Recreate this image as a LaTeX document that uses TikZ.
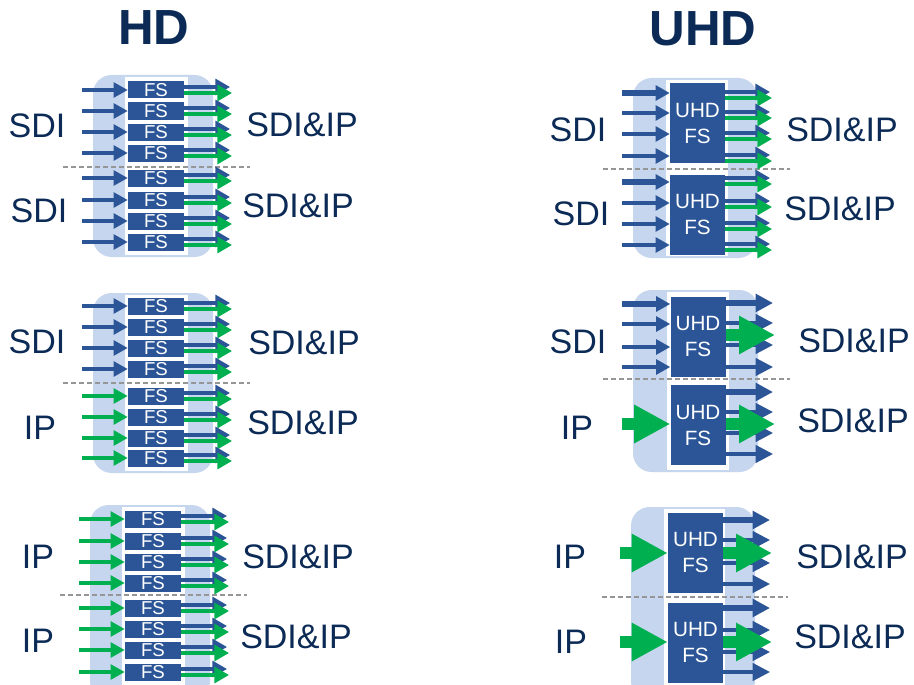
\documentclass[tikz,border=0pt]{standalone}
\usepackage{fontspec}
\setmainfont{Liberation Sans}
\usetikzlibrary{arrows.meta}
\definecolor{navy}{RGB}{11,42,85}
\definecolor{boxblue}{RGB}{43,85,151}
\definecolor{bglight}{RGB}{197,214,238}
\definecolor{grn}{RGB}{0,176,80}
\definecolor{sepgray}{RGB}{150,150,150}
\tikzset{
  bgpanel/.style={fill=bglight, rounded corners=14pt},
  sepline/.style={draw=sepgray, line width=1.5pt, dash pattern=on 3.75pt off 2.25pt},
  fsbox/.style={fill=boxblue, text=white, minimum width=42pt, minimum height=12.75pt, inner sep=0pt,
    font=\fontsize{14}{14}\selectfont, text height=10pt, text depth=0pt},
  uhdbox/.style={fill=boxblue, text=white, minimum width=41.25pt, minimum height=60pt, inner sep=0pt,
    align=center, font=\fontsize{15.5}{19.5}\selectfont},
  lab/.style={text=navy, inner sep=0pt, font=\fontsize{25.5}{30}\selectfont, text height=18.2pt, text depth=0pt},
  ttl/.style={text=navy, inner sep=0pt, font=\bfseries\fontsize{37}{40}\selectfont, text height=26.5pt, text depth=0pt},
  hin/.style={line width=2.4pt, -{Triangle[length=10.5pt,width=11pt]}},
  bout/.style={draw=boxblue, line width=2.4pt, -{Triangle[length=11pt,width=12pt]}},
  gout/.style={draw=grn, line width=2.4pt, -{Triangle[length=11pt,width=12pt]}},
  uin/.style={draw=boxblue, -{Triangle[length=10.5pt,width=11pt]}},
  uout/.style={draw=boxblue, -{Triangle[length=13pt,width=13pt]}},
  bigg/.style={draw=grn, line width=8.5pt, -{Triangle[length=27pt,width=27pt]}}
}
\newcommand{\HDpanel}[6]{%
  \fill[bgpanel] ({93+#2},#3) rectangle ({213+#2},#4);
  \fill[white] ({125+#2},{#3+2}) rectangle ({188+#2},{#4-2});
  \coordinate (#1sl) at ({63+#2},#5);
  \coordinate (#1sr) at ({250+#2},#5);
  \draw[sepline] (#1sl) -- (#1sr);
  \foreach \i/\cy/\c in {#6}{%
    \node[fsbox] (#1b\i) at ({156+#2},\cy) {FS};
    \coordinate (#1i\i) at ({82+#2},\cy);
    \draw[hin, draw=\c] (#1i\i) -- (#1b\i.west);
    \coordinate (#1ob\i) at ({230+#2},{\cy-3});
    \coordinate (#1og\i) at ({232+#2},{\cy+3});
    \draw[bout] (#1b\i.east |- #1ob\i) -- (#1ob\i);
    \draw[gout] (#1b\i.east |- #1og\i) -- (#1og\i);
  }%
}
\begin{document}
\begin{tikzpicture}[x=0.75pt, y=-0.75pt]
\useasboundingbox (0,0) rectangle (914,685);
\clip (0,0) rectangle (914,685);
\fill[white] (0,0) rectangle (914,685);

% titles
\node[ttl] (thd) at (154,27) {HD};
\node[ttl] (tuhd) at (703,28) {UHD};

% ---------- HD panels ----------
\HDpanel{ha}{0}{75}{257}{167}{1/90/boxblue,2/111/boxblue,3/132/boxblue,4/153/boxblue,5/178/boxblue,6/200/boxblue,7/221/boxblue,8/242/boxblue}
\HDpanel{hb}{0}{293}{473}{383}{1/306/boxblue,2/327/boxblue,3/348/boxblue,4/369/boxblue,5/396/grn,6/417/grn,7/438/grn,8/458/grn}
\HDpanel{hc}{-3}{505}{700}{595}{1/519/grn,2/541/grn,3/562/grn,4/583/grn,5/608/grn,6/629/grn,7/650/grn,8/672/grn}

\node[lab] (ha1) at (37,125) {SDI};
\node[lab] (ha2) at (302,124) {SDI\&IP};
\node[lab] (ha3) at (39,210) {SDI};
\node[lab] (ha4) at (298,205) {SDI\&IP};
\node[lab] (hb1) at (37,341) {SDI};
\node[lab] (hb2) at (304,342) {SDI\&IP};
\node[lab] (hb3) at (40,427) {IP};
\node[lab] (hb4) at (303,422) {SDI\&IP};
\node[lab] (hc1) at (38,556) {IP};
\node[lab] (hc2) at (298,556) {SDI\&IP};
\node[lab] (hc3) at (38,640) {IP};
\node[lab] (hc4) at (296,636) {SDI\&IP};

% ---------- UHD panel 1 ----------
\fill[bgpanel] (633,78) rectangle (757,258);
\fill[white] (666,80) rectangle (728,256);
\coordinate (u1sl) at (603,169);
\coordinate (u1sr) at (790,169);
\draw[sepline] (u1sl) -- (u1sr);
\node[uhdbox] (u1a) at (697.5,123) {UHD\\FS};
\node[uhdbox] (u1b) at (697.5,214.5) {UHD\\FS};
\foreach \n/\y/\w/\b in {1/93/4.2pt/u1a,2/113/2.4pt/u1a,3/134/2.4pt/u1a,4/156/2.4pt/u1a,5/182/4.2pt/u1b,6/203/2.4pt/u1b,7/224/2.4pt/u1b,8/245/2.4pt/u1b}{%
  \coordinate (u1i\n) at (622,\y);
  \draw[uin, line width=\w] (u1i\n) -- (\b.west |- u1i\n);
}
\foreach \n/\y/\b in {1/95/u1a,2/115/u1a,3/136/u1a,4/158/u1a,5/181/u1b,6/204/u1b,7/226/u1b,8/247/u1b}{%
  \coordinate (u1ob\n) at (770,{\y-3});
  \coordinate (u1og\n) at (772,{\y+3});
  \draw[bout] (\b.east |- u1ob\n) -- (u1ob\n);
  \draw[gout] (\b.east |- u1og\n) -- (u1og\n);
}
\node[lab] (ua1) at (578,129) {SDI};
\node[lab] (ua2) at (842,129) {SDI\&IP};
\node[lab] (ua3) at (581,213) {SDI};
\node[lab] (ua4) at (840,208) {SDI\&IP};

% ---------- UHD panel 2 ----------
\fill[bgpanel] (633,290) rectangle (758,472);
\fill[white] (667,292) rectangle (729,470);
\coordinate (u2sl) at (603,379);
\coordinate (u2sr) at (790,379);
\draw[sepline] (u2sl) -- (u2sr);
\node[uhdbox] (u2a) at (698,336.5) {UHD\\FS};
\node[uhdbox] (u2b) at (698,425) {UHD\\FS};
\foreach \n/\y/\w in {1/304/4.2pt,2/324/2.4pt,3/347/2.4pt,4/367/2.4pt}{%
  \coordinate (u2i\n) at (622,\y);
  \draw[uin, line width=\w] (u2i\n) -- (u2a.west |- u2i\n);
}
\coordinate (u2ig) at (622,424);
\draw[bigg] (u2ig) -- (u2b.west |- u2ig);
\foreach \n/\y/\w/\b in {1/303/4.2pt/u2a,2/323/2.4pt/u2a,3/345/2.4pt/u2a,4/367/2.4pt/u2a,5/392/4.2pt/u2b,6/412/2.4pt/u2b,7/433/2.4pt/u2b,8/454/2.4pt/u2b}{%
  \coordinate (u2o\n) at (773,\y);
  \draw[uout, line width=\w] (\b.east |- u2o\n) -- (u2o\n);
}
\coordinate (u2ga) at (775,335);
\draw[bigg] (u2a.east |- u2ga) -- (u2ga);
\coordinate (u2gb) at (775,424);
\draw[bigg] (u2b.east |- u2gb) -- (u2gb);
\node[lab] (ub1) at (578,341) {SDI};
\node[lab] (ub2) at (854,340) {SDI\&IP};
\node[lab] (ub3) at (577,427) {IP};
\node[lab] (ub4) at (853,420) {SDI\&IP};

% ---------- UHD panel 3 ----------
\fill[bgpanel] (631,507) rectangle (755,700);
\fill[white] (664,509) rectangle (725,700);
\coordinate (u3sl) at (602,597);
\coordinate (u3sr) at (788,597);
\draw[sepline] (u3sl) -- (u3sr);
\node[uhdbox] (u3a) at (695.5,552.5) {UHD\\FS};
\node[uhdbox] (u3b) at (695.5,642.5) {UHD\\FS};
\coordinate (u3iga) at (620,553);
\draw[bigg] (u3iga) -- (u3a.west |- u3iga);
\coordinate (u3igb) at (620,642);
\draw[bigg] (u3igb) -- (u3b.west |- u3igb);
\foreach \n/\y/\w/\b in {1/520/4.2pt/u3a,2/540/2.4pt/u3a,3/563/2.4pt/u3a,4/584/2.4pt/u3a,5/608/4.2pt/u3b,6/630/2.4pt/u3b,7/652/2.4pt/u3b,8/672/2.4pt/u3b}{%
  \coordinate (u3o\n) at (770,\y);
  \draw[uout, line width=\w] (\b.east |- u3o\n) -- (u3o\n);
}
\coordinate (u3ga) at (772,553);
\draw[bigg] (u3a.east |- u3ga) -- (u3ga);
\coordinate (u3gb) at (772,642);
\draw[bigg] (u3b.east |- u3gb) -- (u3gb);
\node[lab] (uc1) at (570,556) {IP};
\node[lab] (uc2) at (852,556) {SDI\&IP};
\node[lab] (uc3) at (571,641) {IP};
\node[lab] (uc4) at (850,636) {SDI\&IP};
\end{tikzpicture}
\end{document}
